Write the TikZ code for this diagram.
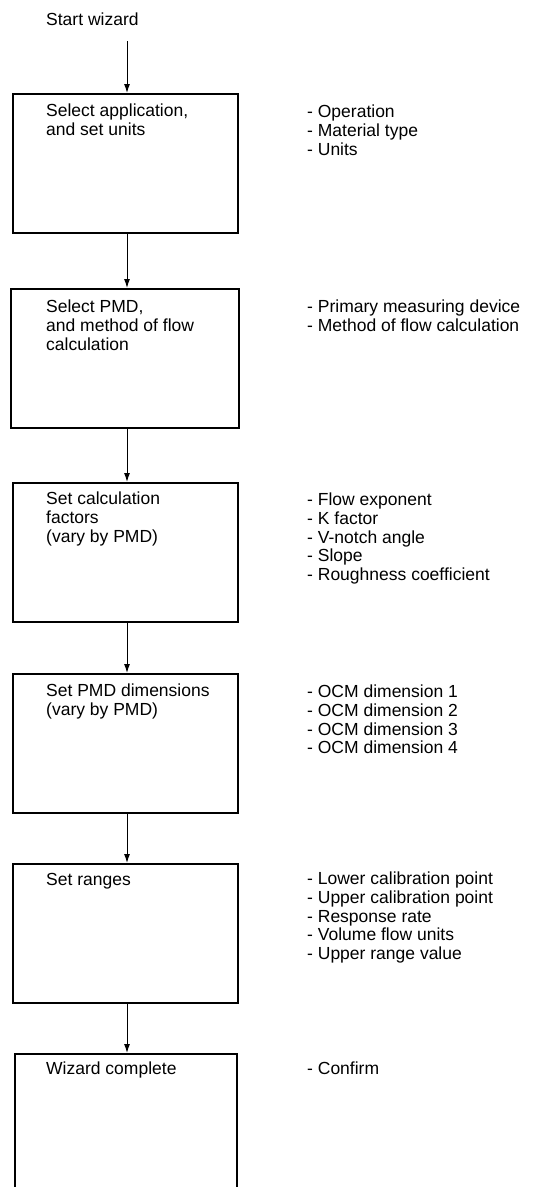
\documentclass[tikz,border=0pt]{standalone}
\usepackage{fontspec}
\setmainfont{Liberation Sans}
\usetikzlibrary{arrows.meta}
\begin{document}
\begin{tikzpicture}[x=1pt,y=-1pt,
  txt/.style={anchor=north west,inner sep=0pt,align=left,font=\fontsize{17.5}{18.7}\selectfont},
  stepbox/.style={draw,line width=1.8pt,anchor=north west,inner sep=0pt,minimum height=139pt},
  arr/.style={line width=1pt,-{Latex[length=9pt,width=6pt]}}]
\clip (0,0) rectangle (553,1187);
\coordinate (ax) at (127,0);
\node[txt] (start) at (46,12.5) {Start wizard};
% boxes
\node[stepbox,minimum width=225pt] (b1) at (12,93) {};
\node[stepbox,minimum width=228pt] (b2) at (10,288) {};
\node[stepbox,minimum width=225pt] (b3) at (12,482) {};
\node[stepbox,minimum width=225pt] (b4) at (12,673) {};
\node[stepbox,minimum width=225pt] (b5) at (12,863) {};
\node[stepbox,minimum width=222pt] (b6) at (14,1053) {};
% box texts
\node[txt] (t1) at (46,104) {Select application,\\and set units};
\node[txt] (t2) at (46,300) {Select PMD,\\and method of flow\\calculation};
\node[txt] (t3) at (46,492) {Set calculation\\factors\\(vary by PMD)};
\node[txt] (t4) at (46,684) {Set PMD dimensions\\(vary by PMD)};
\node[txt] (t5) at (46,873) {Set ranges};
\node[txt] (t6) at (46,1062) {Wizard complete};
% lists
\node[txt] (l1) at (307,105) {- Operation\\- Material type\\- Units};
\node[txt] (l2) at (307,300) {- Primary measuring device\\- Method of flow calculation};
\node[txt] (l3) at (307,493) {- Flow exponent\\- K factor\\- V-notch angle\\- Slope\\- Roughness coefficient};
\node[txt] (l4) at (307,685) {- OCM dimension 1\\- OCM dimension 2\\- OCM dimension 3\\- OCM dimension 4};
\node[txt] (l5) at (307,872) {- Lower calibration point\\- Upper calibration point\\- Response rate\\- Volume flow units\\- Upper range value};
\node[txt] (l6) at (307,1062) {- Confirm};
% arrows
\draw[arr] ([yshift=-15.5pt]start.south -| ax) -- (b1.north -| ax);
\draw[arr] (b1.south -| ax) -- (b2.north -| ax);
\draw[arr] (b2.south -| ax) -- (b3.north -| ax);
\draw[arr] (b3.south -| ax) -- (b4.north -| ax);
\draw[arr] (b4.south -| ax) -- (b5.north -| ax);
\draw[arr] (b5.south -| ax) -- (b6.north -| ax);
\end{tikzpicture}
\end{document}
